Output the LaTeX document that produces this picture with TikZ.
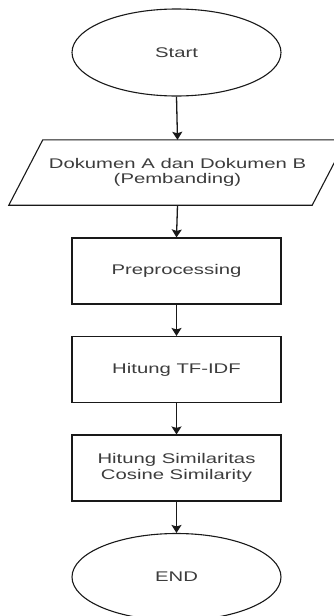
\documentclass[tikz,border=0pt]{standalone}
\usepackage{fontspec}
\setmainfont{Liberation Sans}
\usepackage{graphicx}
\usetikzlibrary{shapes.geometric,arrows.meta}
\definecolor{txt}{RGB}{60,60,60}
\definecolor{ln}{RGB}{25,25,25}
\newcommand{\hs}[1]{\scalebox{1.45}[1]{#1}}
\begin{document}
\begin{tikzpicture}[x=1pt,y=-1pt,
  every node/.style={font=\fontsize{14}{15.5}\selectfont, text=txt, align=center, inner sep=0pt},
  term/.style={ellipse, draw=ln, line width=1.1pt, minimum width=209pt, minimum height=87pt},
  procbox/.style={rectangle, draw=ln, line width=1.1pt, minimum width=209pt, minimum height=66pt},
  flow/.style={draw=ln, line width=1.3pt, -{Stealth[width=10pt,length=8pt,inset=1.5pt]}}]
\useasboundingbox (0,0) rectangle (334,616);
\begin{scope}
\clip (0,0) rectangle (334,616);
\node[term] (start) at (176.5,52.5) {\hs{Start}};
\node[minimum width=303pt, minimum height=65pt] (doc) at (177.5,172.5) {\hs{Dokumen A dan Dokumen B}\\\hs{(Pembanding)}};
\draw[ln, line width=1.1pt] ([xshift=-17pt]doc.south west) -- ([xshift=17pt]doc.north west) -- ([xshift=17pt]doc.north east) -- ([xshift=-17pt]doc.south east) -- cycle;
\node[procbox] (pre) at (176.5,271) {\hs{Preprocessing}};
\node[procbox] (tf) at (176.5,369.5) {\hs{Hitung TF-IDF}};
\node[procbox] (sim) at (176.5,468) {\hs{Hitung Similaritas}\\\hs{Cosine Similarity}};
\node[term] (end) at (176.5,577) {\hs{END}};
\draw[flow] (start.south) -- (doc.north);
\draw[flow] (doc.south) -- (pre.north);
\draw[flow] (pre.south) -- (tf.north);
\draw[flow] (tf.south) -- (sim.north);
\draw[flow] (sim.south) -- (end.north);
\end{scope}
\end{tikzpicture}
\end{document}
